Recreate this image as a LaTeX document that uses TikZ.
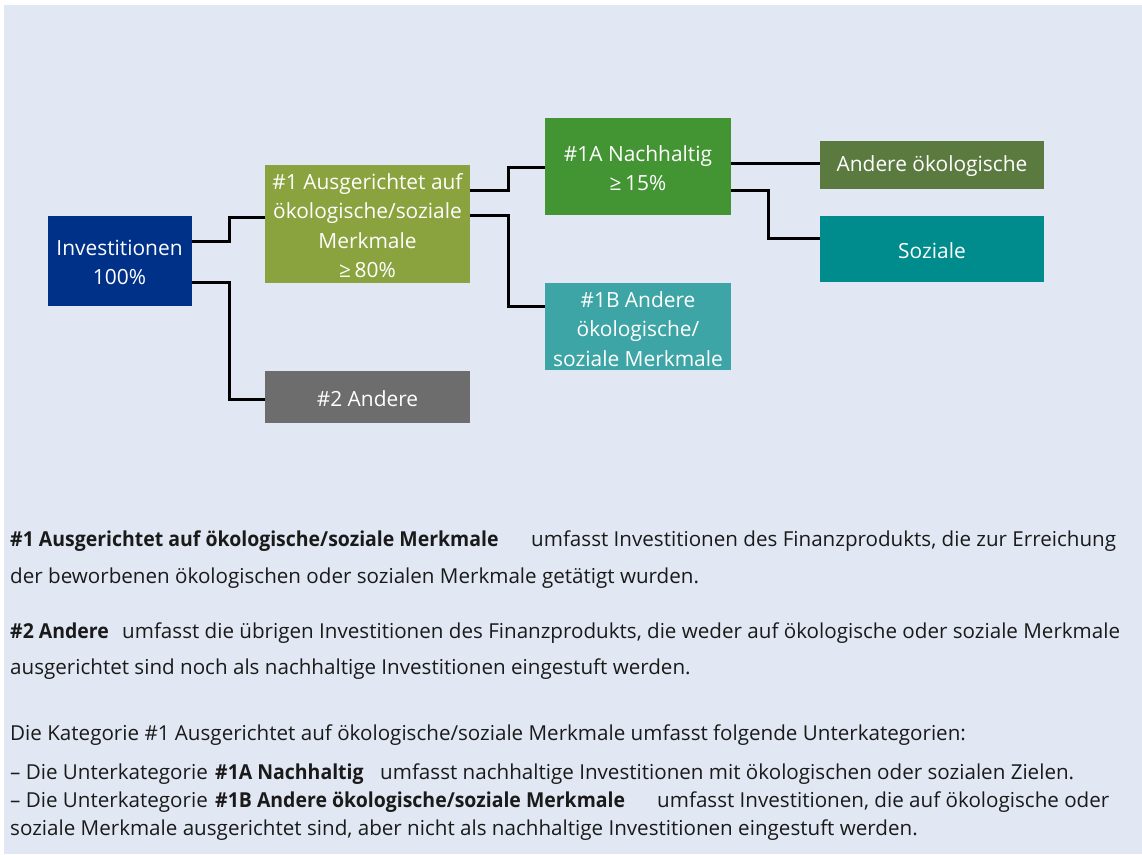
\documentclass[tikz,border=0pt]{standalone}
\usepackage{graphicx}
\usepackage{fontspec}
\setmainfont{Open Sans}
\definecolor{bgc}{HTML}{E1E8F3}
\definecolor{cinv}{HTML}{003189}
\definecolor{cone}{HTML}{8AA33E}
\definecolor{ctwo}{HTML}{6D6D6D}
\definecolor{conea}{HTML}{439534}
\definecolor{coneb}{HTML}{3DA5A5}
\definecolor{cand}{HTML}{5B7A40}
\definecolor{csoz}{HTML}{008C8C}
\definecolor{txt}{HTML}{1A1A1A}
\newcommand{\bldpart}[1]{\scalebox{0.945}[1]{\textbf{#1}}}
\tikzset{
  boxnode/.style={inner sep=0pt, outer sep=0pt, text=white, align=center,
    font=\fontsize{20.9}{29.5}\selectfont},
  conn/.style={draw=black, line width=3pt},
  body/.style={anchor=base west, inner sep=0pt, text=txt,
    font=\fontsize{20.6}{24}\selectfont},
}
\begin{document}
\begin{tikzpicture}[x=1pt,y=-1pt]
\useasboundingbox (0,0) rectangle (1142,854);
\fill[bgc] (4,5) rectangle (1142,854);

% boxes
\node[boxnode, fill=cinv, minimum width=144pt, minimum height=90pt] (inv) at (119.5,261) {};
\node[boxnode, anchor=center] (invt) at (119.5,262.5) {Investitionen\\100\%};

\node[boxnode, fill=cone, minimum width=205pt, minimum height=118pt] (one) at (367.5,224) {};
\node[boxnode] (onet) at (367.5,225.5) {\#1 Ausgerichtet auf\\ökologische/soziale\\Merkmale\\≥\,80\%};

\node[boxnode, fill=ctwo, minimum width=205pt, minimum height=52pt] (two) at (367.5,397) {};
\node[boxnode] (twot) at (367.5,399) {\#2 Andere};

\node[boxnode, fill=conea, minimum width=186pt, minimum height=97pt] (onea) at (638,166.5) {};
\node[boxnode] (oneat) at (638,168) {\#1A Nachhaltig\\≥\,15\%};

\node[boxnode, fill=coneb, minimum width=186pt, minimum height=87pt] (oneb) at (638,326.5) {};
\node[boxnode] (onebt) at (638,329) {\#1B Andere\\ökologische/\\soziale Merkmale};

\node[boxnode, fill=cand, minimum width=224pt, minimum height=48pt] (andok) at (932,165) {};
\node[boxnode] (andokt) at (932,166) {Andere ökologische};

\node[boxnode, fill=csoz, minimum width=224pt, minimum height=66pt] (soz) at (932,249) {};
\node[boxnode] (sozt) at (932,251) {Soziale};

% connectors
\coordinate (j1) at (229,241);
\coordinate (j2) at (508,190);
\coordinate (j3) at (768,190);
\draw[conn] (inv.east |- j1) -- (j1) |- (one.west |- 0,217);
\draw[conn] (inv.east |- 0,282) -| (j1 |- 0,282) |- (two.west |- 0,399);
\draw[conn] (one.east |- j2) -- (j2) |- (onea.west |- 0,167);
\draw[conn] (one.east |- 0,215) -| (j2 |- 0,215) |- (oneb.west |- 0,306);
\draw[conn] (onea.east |- 0,163) -- (andok.west |- 0,163);
\draw[conn] (onea.east |- j3) -- (j3) |- (soz.west |- 0,238);

% explanatory text
\node[body] (l1a) at (10,546) {\bldpart{\#1 Ausgerichtet auf ökologische/soziale Merkmale}};
\node[body] (l1b) at (531,546) {umfasst Investitionen des Finanzprodukts, die zur Erreichung};
\node[body] (l2) at (10,583) {der beworbenen ökologischen oder sozialen Merkmale getätigt wurden.};
\node[body] (l3a) at (10,638) {\bldpart{\#2 Andere}};
\node[body] (l3b) at (122,638) {umfasst die übrigen Investitionen des Finanzprodukts, die weder auf ökologische oder soziale Merkmale};
\node[body] (l4) at (10,674) {ausgerichtet sind noch als nachhaltige Investitionen eingestuft werden.};
\node[body] (l5) at (10,740) {Die Kategorie \#1 Ausgerichtet auf ökologische/soziale Merkmale umfasst folgende Unterkategorien:};
\node[body] (l6a) at (10,779) {– Die Unterkategorie};
\node[body] (l6b) at (215,779) {\bldpart{\#1A Nachhaltig}};
\node[body] (l6c) at (380,779) {umfasst nachhaltige Investitionen mit ökologischen oder sozialen Zielen.};
\node[body] (l7a) at (10,807) {– Die Unterkategorie};
\node[body] (l7b) at (215,807) {\bldpart{\#1B Andere ökologische/soziale Merkmale}};
\node[body] (l7c) at (657,807) {umfasst Investitionen, die auf ökologische oder};
\node[body] (l8) at (10,835) {soziale Merkmale ausgerichtet sind, aber nicht als nachhaltige Investitionen eingestuft werden.};
\end{tikzpicture}
\end{document}
